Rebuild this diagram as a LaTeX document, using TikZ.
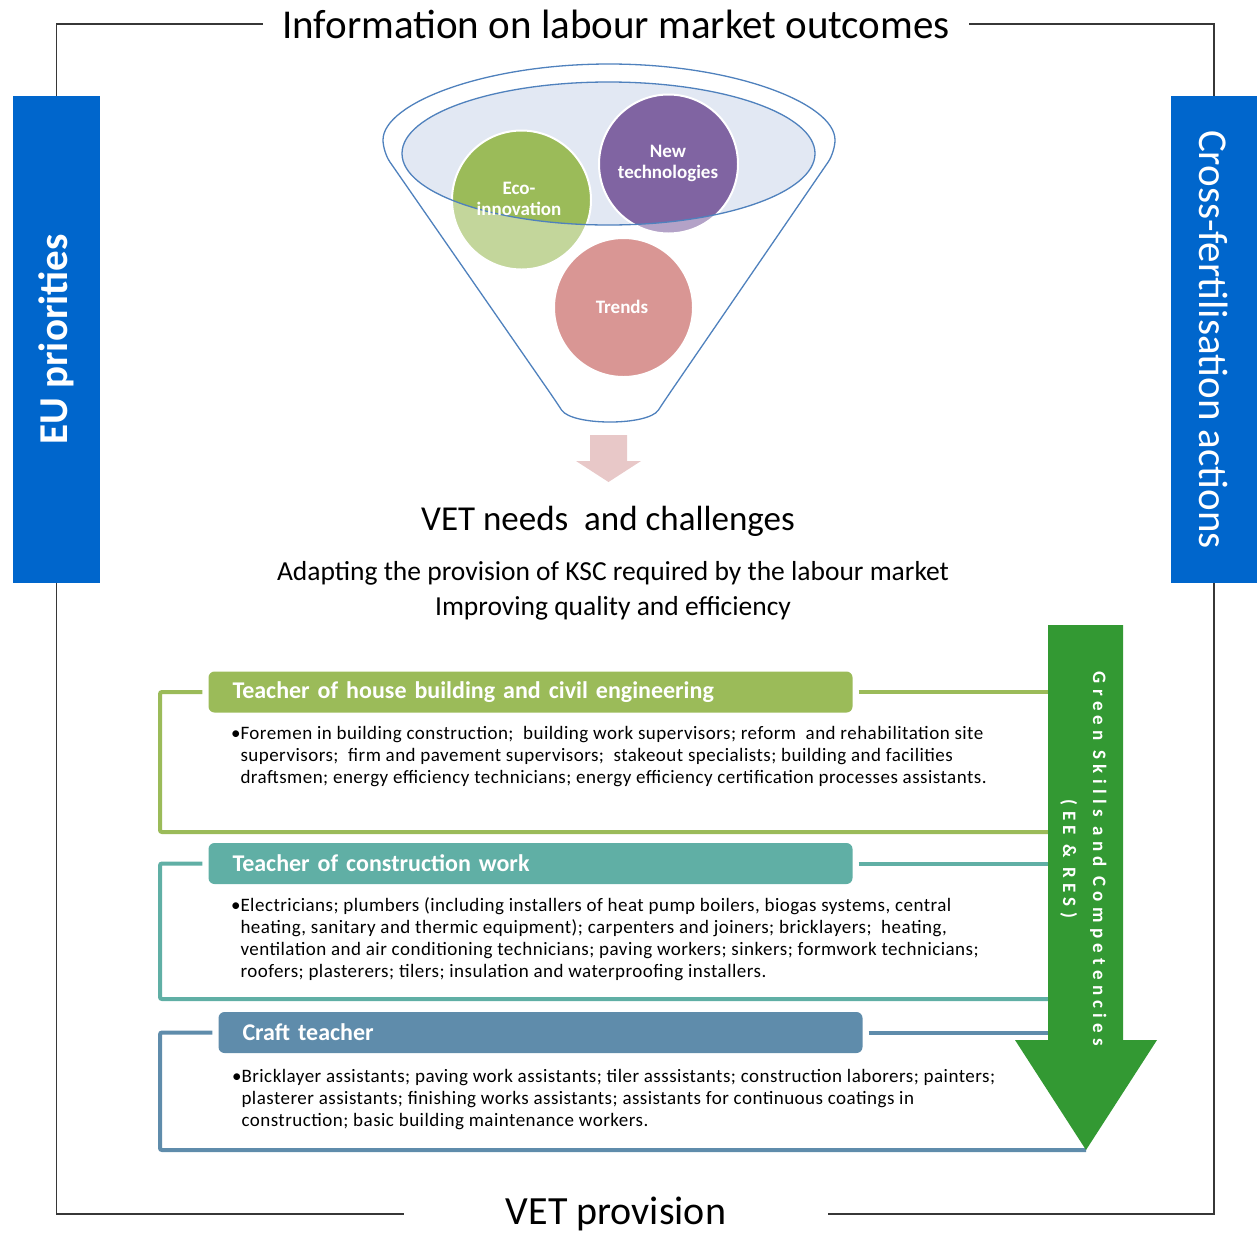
\documentclass[tikz,border=0pt]{standalone}
\usepackage{fontspec}
\setmainfont{Carlito}
\usetikzlibrary{positioning}

\definecolor{eublue}{RGB}{0,102,204}
\definecolor{framegrey}{RGB}{55,55,55}
\definecolor{funnelblue}{RGB}{79,129,189}
\definecolor{funnelfill}{RGB}{226,232,243}
\definecolor{ecogreen}{RGB}{155,187,89}
\definecolor{ecolight}{RGB}{195,214,155}
\definecolor{techpurple}{RGB}{128,100,162}
\definecolor{techlight}{RGB}{179,162,199}
\definecolor{trendrose}{RGB}{217,150,148}
\definecolor{downpink}{RGB}{232,200,200}
\definecolor{housegreen}{RGB}{155,187,89}
\definecolor{worksteal}{RGB}{96,175,165}
\definecolor{craftblue}{RGB}{95,140,171}
\definecolor{skillgreen}{RGB}{51,153,51}

\tikzstyle{sidebar} = [
    rectangle, fill=eublue, text=white, inner sep=0pt,
    minimum width=87pt, minimum height=487pt
]
\tikzstyle{heading} = [inner sep=0pt, text=black]
\tikzstyle{frame} = [draw=framegrey, line width=1.6pt]
\tikzstyle{bubble} = [circle, minimum size=139pt, inner sep=0pt]
\tikzstyle{bubbletext} = [
    inner sep=0pt, text=white, align=center,
    font=\bfseries\fontsize{19}{21}\selectfont
]
\tikzstyle{header} = [
    rectangle, rounded corners=6pt, inner xsep=24pt, inner ysep=0pt,
    minimum height=41pt, text width=596pt, align=left, text=white,
    font=\bfseries\fontsize{24}{26}\selectfont
]
\tikzstyle{bodytext} = [
    inner sep=0pt, align=left, text=black,
    font=\fontsize{19}{22}\selectfont\addfontfeature{LetterSpace=2.5}
]
\tikzstyle{arm} = [line width=4pt, rounded corners=2pt]

% rim of the funnel
\newcommand{\funnelrim}{(608.5,153.5) ellipse [x radius=206.5, y radius=71.5]}

\begin{document}
\begin{tikzpicture}[x=1pt, y=-1pt]
    \useasboundingbox (0,0) rectangle (1257,1232);

    % Titles of the frame
    \node[heading, inner xsep=19pt, font=\fontsize{41}{44}\selectfont] (info) at (616,24)
        {Information on labour market outcomes};
    \node[heading, minimum width=423pt, font=\fontsize{40}{44}\selectfont] (prov) at (616,1214)
        {VET provision};

    % Side bars
    \node[sidebar, font=\bfseries\fontsize{41}{44}\selectfont] (eu) at (56.5,339.5)
        {\rotatebox{90}{EU priorities}};
    \node[sidebar, minimum width=86pt, font=\fontsize{41}{44}\selectfont] (cross) at (1214,339.5)
        {\rotatebox{-90}{Cross-fertilisation actions}};

    % Frame lines
    \draw[frame] (info.west) -| (eu.north);
    \draw[frame] (info.east) -| (cross.north);
    \draw[frame] (eu.south) |- (prov.west);
    \draw[frame] (cross.south) |- (prov.east);

    % Funnel
    \draw[draw=funnelblue, fill=white, line width=1.3pt, rounded corners=12pt]
        (383,152) arc [start angle=180, end angle=360, x radius=226, y radius=88]
        -- (665,400) .. controls (648,426) and (572,426) .. (555,400) -- cycle;
    \fill[funnelfill] \funnelrim;

    % Bubbles (light outside the rim, full colour inside)
    \node[bubble, fill=ecolight] (eco) at (521.5,200) {};
    \node[bubble, fill=techlight] (tech) at (668.5,164) {};
    \node[bubble, fill=trendrose] (trend) at (623.5,307.5) {};
    \begin{scope}
        \clip \funnelrim;
        \fill[ecogreen] (eco) circle [radius=69.5];
        \fill[techpurple] (tech) circle [radius=69.5];
    \end{scope}
    \draw[white, line width=2pt] (eco) circle [radius=69.5];
    \draw[white, line width=2pt] (tech) circle [radius=69.5];
    \draw[white, line width=2pt] (trend) circle [radius=69.5];
    \draw[funnelblue, line width=1.3pt] \funnelrim;

    \node[bubbletext] (ecoLabel) at (519,199) {Eco-\\innovation};
    \node[bubbletext] (techLabel) at (668,163) {New\\technologies};
    \node[bubbletext] (trendLabel) at (622,307) {Trends};

    % Down arrow out of the funnel
    \fill[downpink] (590,435) -- (627,435) -- (627,461) -- (641,461)
        -- (608.5,482) -- (576,461) -- (590,461) -- cycle;

    % VET needs
    \node[heading, font=\fontsize{35}{40}\selectfont] (needs) at (608,521)
        {VET needs\ \ and challenges};
    \node[heading, font=\fontsize{27.5}{30}\selectfont] (adapt) at (613,573)
        {Adapting the provision of KSC required by the labour market};
    \node[heading, font=\fontsize{27.5}{30}\selectfont] (improve) at (613,608)
        {Improving quality and efficiency};

    % Teacher profiles
    \node[header, fill=housegreen] (house) at (530.5,692)
        {Teacher of house building and civil engineering};
    \node[bodytext, below right=13pt and 32pt of house.south west] (houseList)
        {\llap{\textbullet}Foremen in building construction;\ \ building work supervisors; reform\ \ and rehabilitation site\\
         supervisors;\ \ firm and pavement supervisors;\ \ stakeout specialists; building and facilities\\
         draftsmen; energy efficiency technicians; energy efficiency certification processes assistants.};

    \node[header, fill=worksteal] (works) at (530.5,863.5)
        {Teacher of construction work};
    \node[bodytext, below right=13pt and 32pt of works.south west] (worksList)
        {\llap{\textbullet}Electricians; plumbers (including installers of heat pump boilers, biogas systems, central\\
         heating, sanitary and thermic equipment); carpenters and joiners; bricklayers;\ \ heating,\\
         ventilation and air conditioning technicians; paving workers; sinkers; formwork technicians;\\
         roofers; plasterers; tilers; insulation and waterproofing installers.};

    \node[header, fill=craftblue] (craft) at (540.5,1032.5)
        {Craft teacher};
    \node[bodytext, below right=16pt and 23pt of craft.south west] (craftList)
        {\llap{\textbullet}Bricklayer assistants; paving work assistants; tiler asssistants; construction laborers; painters;\\
         plasterer assistants; finishing works assistants; assistants for continuous coatings in\\
         construction; basic building maintenance workers.};

    % Brackets round the profiles
    \coordinate (shaft) at (1048,625);
    \coordinate (houseCorner) at (160,832);
    \coordinate (worksCorner) at (160,999);
    \coordinate (craftCorner) at (160,1150);
    \coordinate (craftEnd) at (1086,1150);

    \draw[arm, housegreen] ([xshift=-6pt]house.west) -| (houseCorner) -- (shaft |- houseCorner);
    \draw[arm, housegreen] ([xshift=6pt]house.east) -- (shaft |- house.east);
    \draw[arm, worksteal] ([xshift=-6pt]works.west) -| (worksCorner) -- (shaft |- worksCorner);
    \draw[arm, worksteal] ([xshift=6pt]works.east) -- (shaft |- works.east);
    \draw[arm, craftblue] ([xshift=-6pt]craft.west) -| (craftCorner) -- (craftEnd);
    \draw[arm, craftblue] ([xshift=6pt]craft.east) -- (shaft |- craft.east);

    % Green skills arrow
    \fill[skillgreen] (shaft) -- (1123,625) -- (1123,1040) -- (1157,1040)
        -- (craftEnd) -- (1015,1040) -- (1048,1040) -- cycle;
    \node[inner sep=0pt, text=white, font=\bfseries\fontsize{19}{30}\selectfont\addfontfeature{LetterSpace=28}]
        (skills) at (1084,859)
        {\rotatebox{-90}{\begin{tabular}{@{}c@{}}Green Skills and Competencies\\(EE \& RES)\end{tabular}}};
\end{tikzpicture}
\end{document}
